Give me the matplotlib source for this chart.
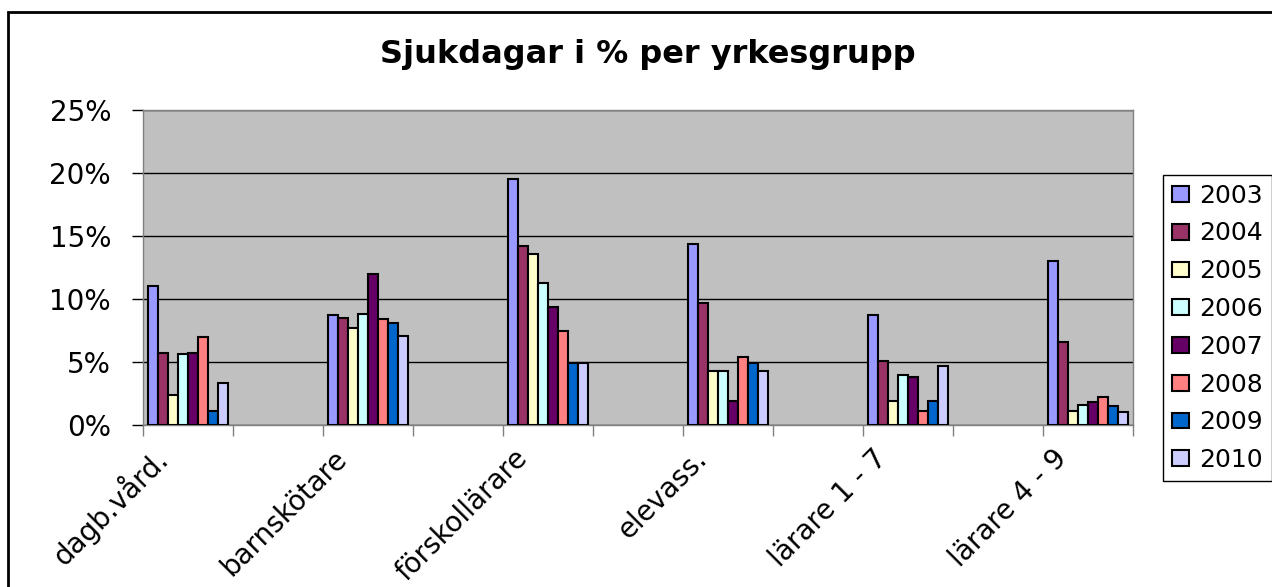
import matplotlib
matplotlib.use("Agg")
import matplotlib.pyplot as plt
from matplotlib.patches import Rectangle
from matplotlib.transforms import ScaledTranslation
from matplotlib.ticker import FuncFormatter
import numpy as np

# yrkesgrupper och sjukdagar i % per år
grupper = ["dagb.vård.", "barnskötare", "förskollärare", "elevass.", "lärare 1 - 7", "lärare 4 - 9"]
ar = ["2003", "2004", "2005", "2006", "2007", "2008", "2009", "2010"]
v2003 = [11.0, 8.7, 19.5, 14.4, 8.7, 13.0]
v2004 = [5.7, 8.5, 14.2, 9.7, 5.1, 6.6]
v2005 = [2.4, 7.7, 13.6, 4.3, 1.9, 1.1]
v2006 = [5.6, 8.8, 11.3, 4.3, 4.0, 1.6]
v2007 = [5.7, 12.0, 9.4, 1.9, 3.8, 1.8]
v2008 = [7.0, 8.4, 7.5, 5.4, 1.1, 2.2]
v2009 = [1.1, 8.1, 4.9, 4.9, 1.9, 1.5]
v2010 = [3.3, 7.1, 4.9, 4.3, 4.7, 1.0]
serier = [v2003, v2004, v2005, v2006, v2007, v2008, v2009, v2010]
farger = ["#9999FF", "#993366", "#FFFFCC", "#CCFFFF", "#660066", "#FF8080", "#0066CC", "#CCCCFF"]

fig = plt.figure(figsize=(12.72, 5.87), dpi=100)
ax = fig.add_axes([143/1272, 1-425/587, (1133-143)/1272, (425-110)/587])
ax.set_facecolor("#C0C0C0")

# varannan kategori är tom, som i originalet
pos = np.arange(len(grupper)) * 2
w = 0.111
for i, (vals, c, lab) in enumerate(zip(serier, farger, ar)):
    ax.bar(pos + (i - 3.5) * w, vals, w, color=c, edgecolor="black", linewidth=1.5, label=lab, zorder=3)

ax.set_xlim(-0.5, 10.5)
ax.set_ylim(0, 25)
ax.set_yticks(np.arange(0, 26, 5))
ax.yaxis.set_major_formatter(FuncFormatter(lambda v, p: f"{v:.0f}%"))
ax.grid(axis="y", color="black", linewidth=1, zorder=1)
ax.tick_params(axis="y", labelsize=20, length=8, width=1, color="black", pad=15)

ax.set_xticks(np.arange(-0.5, 11, 1))
ax.set_xticklabels([])
ax.set_xticks(pos, minor=True)
ax.set_xticklabels(grupper, minor=True, rotation=45, ha="right", va="center",
                   rotation_mode="anchor", fontsize=20)
ax.tick_params(axis="x", which="major", length=8, width=1, color="#808080")
ax.tick_params(axis="x", which="minor", length=0, pad=21)
off = ScaledTranslation(-0.25, 0, fig.dpi_scale_trans)
for t in ax.get_xticklabels(minor=True):
    t.set_transform(t.get_transform() + off)

for s in ax.spines.values():
    s.set_color("#808080")
    s.set_linewidth(1)

fig.text(648/1272, 1-55/587, "Sjukdagar i % per yrkesgrupp", ha="center", va="center",
         fontsize=23, fontweight="bold")

leg = ax.legend(loc="upper left", bbox_to_anchor=(1163/1272, 1-175/587), bbox_transform=fig.transFigure,
                fontsize=18, frameon=True, fancybox=False, edgecolor="black", framealpha=1,
                handlelength=0.7, handleheight=0.6, handletextpad=0.4, labelspacing=0.55,
                borderpad=0.35, borderaxespad=0)
leg.get_frame().set_linewidth(1)

fig.patches.append(Rectangle((8/1272, -0.1), 1.2, 1-12/587+0.1, transform=fig.transFigure,
                             fill=False, edgecolor="black", linewidth=2))

fig.savefig("out.png", dpi=100, facecolor="white")
